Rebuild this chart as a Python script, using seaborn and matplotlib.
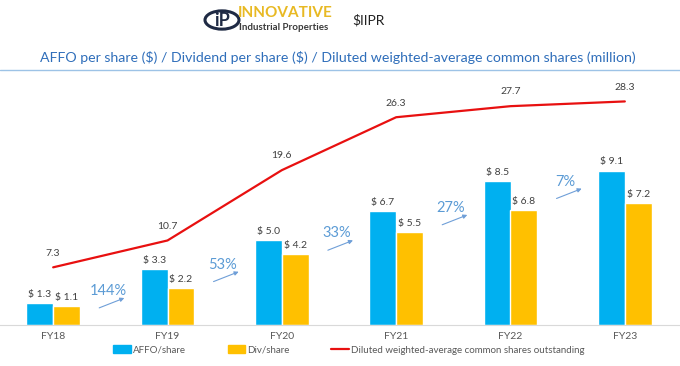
import pandas as pd
import numpy as np
import matplotlib.pyplot as plt
import seaborn as sns
from matplotlib.patches import Circle, Patch
from matplotlib.lines import Line2D

# Data
years = ['FY18', 'FY19', 'FY20', 'FY21', 'FY22', 'FY23']
affo_share = [1.3, 3.3, 5.0, 6.7, 8.5, 9.1]
div_share = [1.1, 2.2, 4.2, 5.5, 6.8, 7.2]
diluted_shares = [7.3, 10.7, 19.6, 26.3, 27.7, 28.3]
growth_labels = ['144%', '53%', '33%', '27%', '7%']

BLUE = '#00B0F0'
GOLD = '#FFC000'
RED = '#E81010'
TXT = '#404040'

sns.set_style("white")
plt.rcParams['font.family'] = ['Lato', 'DejaVu Sans']

df = pd.DataFrame({
    'year': years * 2,
    'value': affo_share + div_share,
    'metric': ['AFFO/share'] * 6 + ['Div/share'] * 6,
})

fig = plt.figure(figsize=(6.8, 3.66), dpi=100)
ax = fig.add_axes([-4 / 680, 41 / 366, 686 / 680, 240 / 366])

sns.barplot(data=df, x='year', y='value', hue='metric', palette=[BLUE, GOLD],
            width=0.47, gap=0, saturation=1, ax=ax, legend=False)
for cont in ax.containers:
    ax.bar_label(cont, labels=[f'\\$ {v:.1f}' for v in cont.datavalues],
                 padding=3, fontsize=7.5, color=TXT)

ax.set_ylim(0, 240 / 16.96)
ax.set_xlim(-0.5, 5.5)
ax.set_xlabel('')
ax.set_ylabel('')
ax.set_yticks([])
ax.tick_params(axis='x', length=0, pad=5, labelsize=7.5, labelcolor='#595959')
for s in ['top', 'left', 'right']:
    ax.spines[s].set_visible(False)
ax.spines['bottom'].set_color('#D9D9D9')

# growth arrows between years
for i, lab in enumerate(growth_labels):
    y0 = 0.5 * (affo_share[i] + div_share[i]) - 0.25
    ax.annotate('', xy=(i + 0.645, y0 + 0.7), xytext=(i + 0.38, y0),
                arrowprops=dict(arrowstyle='-|>', color='#6F9FD8', lw=0.8,
                                mutation_scale=6))
    ax.text(i + 0.48, y0 + 1.05, lab, ha='center', va='center',
            fontsize=10.5, color='#5B9BD5')

# diluted shares line on secondary axis
ax2 = ax.twinx()
sns.lineplot(x=np.arange(len(years)), y=diluted_shares, color=RED, lw=1.6, ax=ax2)
ax2.set_ylim(0, 240 / 7.9)
ax2.set_yticks([])
for s in ax2.spines.values():
    s.set_visible(False)
for i, v in enumerate(diluted_shares):
    ax2.annotate(f'{v:.1f}', (i, v), xytext=(0, 7), textcoords='offset points',
                 ha='center', va='bottom', fontsize=7.5, color=TXT)

# legend
handles = [Patch(color=BLUE, label='AFFO/share'),
           Patch(color=GOLD, label='Div/share'),
           Line2D([], [], color=RED, lw=1.6,
                  label='Diluted weighted-average common shares outstanding')]
fig.legend(handles=handles, loc='center', bbox_to_anchor=(0.513, 16 / 366), ncol=3,
           frameon=False, fontsize=7, handlelength=1.8, handleheight=0.8,
           handletextpad=0.2, columnspacing=4.3, labelcolor='#595959')

# title and header
fig.text(0.497, 1 - 57 / 366, 'AFFO per share (\\$) / Dividend per share (\\$) / '
         'Diluted weighted-average common shares (million)',
         ha='center', va='center', fontsize=10.2, color='#2F6EBA')
fig.add_artist(Line2D([0, 1], [1 - 70 / 366] * 2, color='#9DC3E6', lw=1,
                      transform=fig.transFigure))

# logo
fig.patches.append(Circle((222 / 680, 1 - 20 / 366), 17 / 680, transform=fig.transFigure,
                          facecolor='white', edgecolor='#1F2A44', lw=2.2))
fig.text(222 / 680, 1 - 21 / 366, 'iP', ha='center', va='center', fontsize=13,
         fontweight='bold', color='#1F2A44')
fig.text(238 / 680, 1 - 13 / 366, 'INNOVATIVE', ha='left', va='center', fontsize=11,
         fontweight='bold', color='#E8B923')
fig.text(239 / 680, 1 - 28 / 366, 'Industrial Properties', ha='left', va='center',
         fontsize=7, fontweight='bold', color='#3A3A3A')
fig.text(352 / 680, 1 - 20 / 366, '\\$IIPR', ha='left', va='center', fontsize=10,
         color='#222222')

fig.savefig('out.png', dpi=100)
